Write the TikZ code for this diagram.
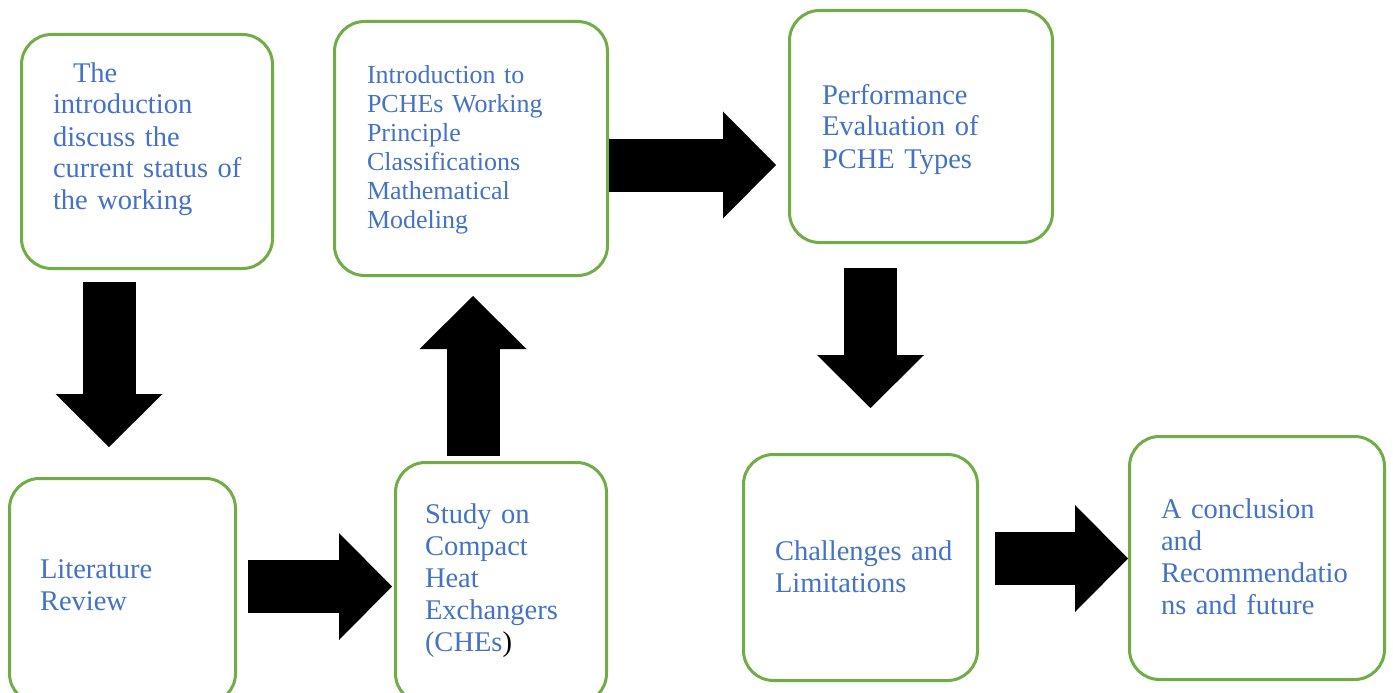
\documentclass[tikz,border=0pt]{standalone}
\usepackage{fontspec}
\setmainfont{Liberation Serif}
\usetikzlibrary{arrows.meta}
\definecolor{boxgreen}{HTML}{70AD47}
\definecolor{textblue}{HTML}{4472C4}
\begin{document}
\begin{tikzpicture}[x=1pt,y=-1pt,
  stage/.style={draw=boxgreen, line width=3pt, rounded corners=30pt, fill=white,
    inner sep=0pt, outer sep=0pt},
  stagetext/.style={anchor=base west, inner sep=0pt, outer sep=0pt, text=textblue,
    text width=300pt, align=left, font=\fontsize{28.5}{32}\selectfont},
  smalltext/.style={stagetext, font=\fontsize{26}{29}\selectfont},
  flow/.style={draw=black, line width=53pt,
    -{Triangle[length=53pt, width=107pt, line width=0pt]}},
]
\clip (0,0) rectangle (1393,693);
\fill[white] (0,0) rectangle (1393,693);

% stages
\node[stage, minimum width=251pt, minimum height=234pt] (intro)  at (147,151.5) {};
\node[stage, minimum width=273pt, minimum height=254pt] (pche)   at (471,148.5) {};
\node[stage, minimum width=263pt, minimum height=232pt] (perf)   at (921,126.5) {};
\node[stage, minimum width=226pt, minimum height=225pt] (lit)    at (122.5,591) {};
\node[stage, minimum width=211pt, minimum height=241pt] (study)  at (501,583) {};
\node[stage, minimum width=234pt, minimum height=226pt] (chall)  at (860.5,567.5) {};
\node[stage, minimum width=255pt, minimum height=243pt] (concl)  at (1257,558) {};

% stage texts
\node[stagetext] (introtext) at ([shift={(31.5,47.5)}]intro.north west)
  {\hspace*{20pt}The\\introduction\\discuss the\\current status of\\the working};
\node[smalltext] (pchetext) at ([shift={(32.5,62.5)}]pche.north west)
  {Introduction to\\PCHEs Working\\Principle\\Classifications\\Mathematical\\Modeling};
\node[stagetext] (perftext) at ([shift={(32.5,93.5)}]perf.north west)
  {Performance\\Evaluation of\\PCHE Types};
\node[stagetext] (littext) at ([shift={(30.5,99.5)}]lit.north west)
  {Literature\\Review};
\node[stagetext] (studytext) at ([shift={(29.5,60.5)}]study.north west)
  {Study on\\Compact\\Heat\\Exchangers\\(CHEs\textcolor{black}{)}};
\node[stagetext] (challtext) at ([shift={(31.5,105.5)}]chall.north west)
  {Challenges and\\Limitations};
\node[stagetext] (concltext) at ([shift={(31.5,81.5)}]concl.north west)
  {A conclusion\\and\\Recommendatio\\ns and future};

% block arrows between the stages
\coordinate (a1s) at (109,282);   \coordinate (a1e) at (109,447);
\coordinate (a2s) at (248,586.5); \coordinate (a2e) at (392,586.5);
\coordinate (a3s) at (473,456);   \coordinate (a3e) at (473,296);
\coordinate (a4s) at (609,165);   \coordinate (a4e) at (776,165);
\coordinate (a5s) at (870.5,268); \coordinate (a5e) at (870.5,408);
\coordinate (a6s) at (995,558.5); \coordinate (a6e) at (1128,558.5);

\draw[flow] (a1s) -- (a1e);
\draw[flow] (a2s) -- (a2e);
\draw[flow] (a3s) -- (a3e);
\draw[flow] (a4s) -- (a4e);
\draw[flow] (a5s) -- (a5e);
\draw[flow] (a6s) -- (a6e);
\end{tikzpicture}
\end{document}
